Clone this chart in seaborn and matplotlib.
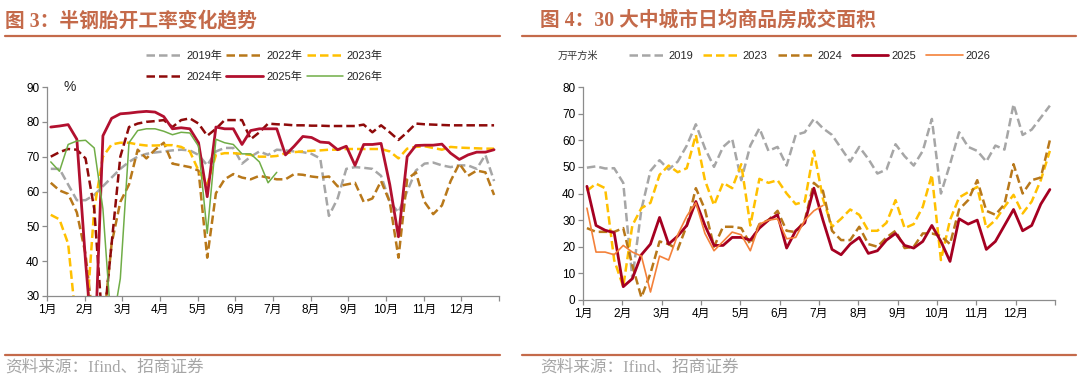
import numpy as np
import pandas as pd
import matplotlib
matplotlib.use("Agg")
import matplotlib.pyplot as plt
import seaborn as sns
from matplotlib.lines import Line2D

# ---------------- data ----------------
month_labels = [f"{m}月" for m in range(1, 13)]

# 半钢胎开工率 (%), weekly
tire_2019 = [66.5, 66.5, 62, 57.5, 57.5, 59, 61.5, 64, 66.5, 68.5, 70, 70.8, 71.2, 71.5, 71.8, 72,
             71.8, 70.5, 67.5, 71.5, 72.5, 72.5, 68, 70, 71.5, 70.5, 72, 71.8, 71.5, 71.3, 70.8, 69.5,
             53, 58, 66.5, 67, 66.8, 66.5, 64.5, 57, 54, 60, 66, 68, 68.3, 67.5, 67, 67.5, 67.5, 66.5,
             70.5, 63]
tire_2022 = [62.5, 60.3, 59.3, 54, 42, 20, 20, 45, 57, 62, 72, 69.5, 72, 74, 68, 67.5, 67, 66, 41,
             59.5, 63.5, 65, 64, 63.5, 64.5, 64, 63.5, 63.5, 65, 64.8, 64.3, 64, 64.3, 61.5, 62, 62.5,
             57, 58, 63, 57, 41, 63.5, 65.5, 57, 53.5, 56, 63, 68, 64.5, 66, 65.5, 59]
tire_2023 = [53.3, 52, 45, 20, 20, 55, 70, 73.5, 74, 74, 73.5, 73.2, 73.2, 73.3, 73.3, 72.8, 71.5, 66,
             62, 70.5, 71, 71, 70.8, 70.5, 70, 70, 70.2, 71, 71.3, 71.5, 71.7, 71.8, 72, 72, 72.2, 72.2,
             72.2, 72.2, 72.2, 71.5, 69.5, 72.3, 72.8, 73, 72.5, 72, 72.8, 72.6, 72.5, 72.4, 72.3, 72.3]
tire_2024 = [70, 71.3, 72.2, 72, 69.5, 55, 20, 45, 70, 78.5, 79.5, 80, 80.2, 80.5, 78.5, 80.5, 81,
             79.5, 76, 78, 80.5, 80.5, 80.5, 75, 77, 79.5, 79.3, 79.2, 79, 79, 78.9, 78.9, 78.8, 78.8,
             78.8, 78.8, 79.2, 77, 79, 77, 74.8, 77, 79.5, 79.3, 79.2, 79.1, 79, 79, 79, 79, 79, 79]
tire_2025 = [78.5, 78.8, 79.2, 75, 40, 10, 76, 81, 82.3, 82.5, 82.8, 83, 82.8, 81.5, 78, 78.3, 78,
             74, 58.5, 78.5, 78, 78, 73.5, 77.5, 78, 78, 78, 70.5, 73, 75.8, 75.5, 74.2, 74, 72, 73,
             67.5, 73.5, 73.5, 73.8, 62, 47, 70, 73.2, 73.3, 73.3, 73.6, 71, 69.2, 70.5, 71.3, 71.3, 72]
tire_2026 = [68.5, 65.8, 73.5, 74.5, 74.7, 72.5, 55, 20, 35, 74, 77.5, 78, 78, 77.3, 76.3, 77, 76.8,
             73, 48, 75, 74, 73.5, 70.8, 70.8, 68.5, 62.5, 65.5]

# 30大中城市日均商品房成交面积 (万平方米), weekly
house_2019 = [49.7, 50.2, 49.4, 49.5, 44, 8, 34, 48.5, 52.5, 49, 52, 58, 66, 57, 50, 57.5, 60.5, 45,
              58, 64.5, 56, 57.5, 50.5, 62, 63, 68, 64.5, 62, 57, 52, 57.5, 53, 47.5, 49, 58.5, 54,
              50.5, 56, 68, 40, 51, 63, 57.5, 56, 52, 58, 56.5, 73.5, 62, 64, 68.5, 73]
house_2023 = [41, 43.7, 42, 15, 5, 28, 34.5, 36.5, 47, 50.5, 48, 49.5, 62, 45, 35.6, 44, 42, 51, 28,
              45.5, 44, 45, 40, 36, 37, 56, 38, 27.5, 30.5, 34, 32, 26, 26, 29, 37.5, 27, 28.5, 35,
              47, 15, 30, 38.5, 40.5, 42.5, 27, 30, 35, 39.5, 32.5, 37, 45, 56]
house_2024 = [27, 25.6, 25.6, 25.6, 27, 13, 1, 10, 22, 21, 19, 28, 42, 34, 20, 27.5, 27.5, 27, 21,
              28.5, 30, 33.5, 26, 25.5, 30, 44, 41, 26, 22.5, 22.5, 27.5, 21, 20, 23.5, 26, 19.5, 20,
              25, 25, 24, 21, 34, 37.5, 45, 33.5, 32, 36, 51, 40, 45, 46, 60]
house_2025 = [42.7, 28, 26.2, 25.3, 5, 8, 17, 21, 31, 21, 24, 28, 37, 28, 20.5, 20.5, 23.5, 23.5,
              22.5, 27, 30, 32, 19.5, 26, 29, 42, 30, 19, 17, 21, 23.5, 17.5, 18.5, 22.5, 25, 20.5,
              19.5, 22, 28, 22, 14.5, 30.5, 28.5, 30, 19, 22, 28, 34, 26, 28, 36, 41.5]
house_2026 = [34.5, 18, 18, 17, 20.5, 18, 16.5, 3, 16.5, 15, 24.5, 31.5, 36.5, 25, 18.5, 22, 25.5,
              24.5, 18.5, 28.5, 30, 30.5, 23, 23.5, 30, 33.5, 35.5]

# ---------------- style ----------------
sns.set_theme(style="white")
plt.rcParams["font.family"] = ["Liberation Sans", "Noto Sans CJK SC", "DejaVu Sans"]
plt.rcParams["axes.unicode_minus"] = False

ACCENT = "#C46A4A"
DASH = (0, (3.4, 1.6))

fig = plt.figure(figsize=(10.8, 3.81), dpi=100)
W, H = 1080, 381


def fx(px):
    return px / W


def fy(py):
    return 1 - py / H


ax1 = fig.add_axes([fx(47), fy(296), fx(499 - 47), (296 - 87) / H])
ax2 = fig.add_axes([fx(583), fy(300), fx(1055 - 583), (300 - 87) / H])


def draw(ax, vals, color, ls, lw, label):
    n = len(vals)
    df = pd.DataFrame({"x": 0.1 + np.arange(n) * 12 / 52, "y": vals})
    sns.lineplot(data=df, x="x", y="y", ax=ax, color=color, linestyle=ls,
                 linewidth=lw, label=label, legend=False)


# left chart
draw(ax1, tire_2019, "#A6A6A6", DASH, 1.8, "2019年")
draw(ax1, tire_2022, "#B8781A", DASH, 1.8, "2022年")
draw(ax1, tire_2023, "#FFC000", DASH, 1.8, "2023年")
draw(ax1, tire_2024, "#8E0A0A", DASH, 1.8, "2024年")
draw(ax1, tire_2025, "#B2102F", "-", 2.0, "2025年")
draw(ax1, tire_2026, "#70AD47", "-", 1.1, "2026年")

# right chart
draw(ax2, house_2019, "#A6A6A6", DASH, 1.8, "2019")
draw(ax2, house_2023, "#FFC000", DASH, 1.8, "2023")
draw(ax2, house_2024, "#B8781A", DASH, 1.8, "2024")
draw(ax2, house_2025, "#A50021", "-", 2.0, "2025")
draw(ax2, house_2026, "#F4813A", "-", 1.2, "2026")


def style_axes(ax, ymin, ymax):
    ax.set_xlim(0, 12)
    ax.set_ylim(ymin, ymax)
    ax.set_xticks(range(0, 13))
    ax.set_xticklabels(month_labels + [""])
    ax.set_yticks(range(ymin, ymax + 1, 10))
    ax.set_xlabel("")
    ax.set_ylabel("")
    for s in ["top", "right"]:
        ax.spines[s].set_visible(False)
    for s in ["left", "bottom"]:
        ax.spines[s].set_color("#8C8C8C")
        ax.spines[s].set_linewidth(0.9)
    ax.tick_params(axis="both", which="major", direction="out", length=3.5, width=0.9,
                   color="#8C8C8C", labelsize=8.5, labelcolor="#000000", pad=2,
                   left=True, bottom=True)
    ax.set_facecolor("none")
    ax.grid(False)


style_axes(ax1, 30, 90)
style_axes(ax2, 0, 80)

# legends
h, l = ax1.get_legend_handles_labels()
order = [0, 3, 1, 4, 2, 5]
ax1.legend([h[i] for i in order], [l[i] for i in order], ncol=3, loc="upper left",
           bbox_to_anchor=(fx(146), fy(51)), bbox_transform=fig.transFigure, frameon=False,
           fontsize=8, handlelength=3.3, handletextpad=0.3, columnspacing=0.4,
           labelspacing=0.95, borderaxespad=0, borderpad=0)
h2, l2 = ax2.get_legend_handles_labels()
ax2.legend(h2, l2, ncol=5, loc="upper left", bbox_to_anchor=(fx(629), fy(51)),
           bbox_transform=fig.transFigure, frameon=False, fontsize=8, handlelength=3.3,
           handletextpad=0.25, columnspacing=0.9, borderaxespad=0, borderpad=0)

# unit labels
fig.text(fx(63), fy(87), "%", fontsize=10, ha="left", va="center")
fig.text(fx(558), fy(56), "万平方米", fontsize=7.3, ha="left", va="center", color="#333333")

# titles, rules and sources
title_font = ["Liberation Serif", "Noto Sans CJK SC"]
fig.text(fx(5), fy(21), "图 3：半钢胎开工率变化趋势", fontsize=14.2, fontweight="bold",
         color=ACCENT, ha="left", va="center", family=title_font)
fig.text(fx(540), fy(21), "图 4：30 大中城市日均商品房成交面积", fontsize=14.2, fontweight="bold",
         color=ACCENT, ha="left", va="center", family=title_font)
for x0, x1 in [(5, 500), (522, 1076)]:
    for yy in (36, 355):
        fig.add_artist(Line2D([fx(x0), fx(x1)], [fy(yy), fy(yy)], transform=fig.transFigure,
                              color=ACCENT, linewidth=1.6))
src_font = ["Liberation Serif", "Noto Sans CJK SC"]
fig.text(fx(5), fy(368), "资料来源：Ifind、招商证券", fontsize=12, color="#A6A6A6",
         ha="left", va="center", family=src_font)
fig.text(fx(540), fy(368), "资料来源：Ifind、招商证券", fontsize=12, color="#A6A6A6",
         ha="left", va="center", family=src_font)

fig.savefig("out.png", dpi=100, facecolor="white")
